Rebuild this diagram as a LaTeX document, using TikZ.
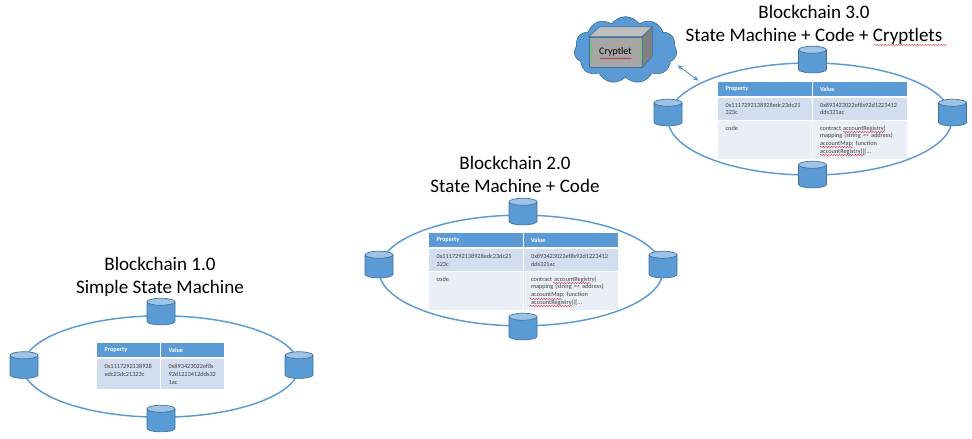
\documentclass[tikz,border=0pt]{standalone}
\usepackage{fontspec}
\setmainfont{Carlito}
\usetikzlibrary{shapes.geometric,shapes.symbols,arrows.meta,decorations.pathmorphing}
\definecolor{chainblue}{HTML}{5B9BD5}
\definecolor{chainedge}{HTML}{41719C}
\definecolor{chaintop}{HTML}{9DC3E6}
\definecolor{rowdark}{HTML}{D2DEEF}
\definecolor{rowlight}{HTML}{EAEFF7}
\begin{document}
\begin{tikzpicture}[x=0.75pt,y=-0.75pt]
        \tikzstyle{ring}=[ellipse,draw=chainblue,line width=1.1pt,inner sep=0pt]
        \tikzstyle{peer}=[cylinder,shape border rotate=90,shape aspect=0.25,draw=chainedge,line width=0.5pt,cylinder uses custom fill,cylinder body fill=chainblue,cylinder end fill=chaintop,text width=21pt,text height=6pt,text depth=0pt,minimum height=20pt,inner sep=0pt,outer sep=0pt]
        \tikzstyle{title}=[align=center,font=\fontsize{14.3}{17.2}\selectfont,text=black]
        \tikzstyle{cell}=[anchor=north west,inner xsep=5.5pt,inner ysep=0pt,align=left,font=\fontsize{4.7}{5.8}\selectfont,text=black!75]
        \tikzstyle{head}=[cell,fill=chainblue,text=white,font=\fontsize{4.7}{5.8}\selectfont\bfseries]
        \tikzstyle{squiggle}=[red!80!black,line width=0.3pt,decorate,decoration={snake,amplitude=0.35pt,segment length=2pt}]
        \useasboundingbox (0,0) rectangle (972,439);

        % first chain
        \node [ring,minimum width=207pt,minimum height=76pt] (ring1) at (161,366.5) {};
        \node [peer] (a1) at (161,313.5) {};
        \node [peer] (a2) at (24,367) {};
        \node [peer] (a3) at (299,367) {};
        \node [peer] (a4) at (161,420.5) {};
        \node [title] (title1) at (160,276.5) {Blockchain 1.0\\Simple State Machine};
        \node [head,minimum width=47pt,minimum height=10.5pt,text width=36pt] (a5) at (97,343) {Property};
        \node [head,minimum width=47pt,minimum height=10.5pt,text width=36pt] (a6) at (161,343) {Value};
        \node [cell,fill=rowdark,minimum width=47pt,minimum height=22.5pt,text width=36pt] (a7) at (97,359) {0x1117292138928\\edc23dc21323c\\\mbox{}};
        \node [cell,fill=rowdark,minimum width=47pt,minimum height=22.5pt,text width=36pt] (a8) at (161,359) {0x893423022ef8s\\92d1223412dds32\\1ac};

        % second chain
        \node [ring,minimum width=213pt,minimum height=83pt] (ring2) at (521,270.5) {};
        \node [peer] (b1) at (523,213.5) {};
        \node [peer] (b2) at (379,266.5) {};
        \node [peer] (b3) at (663,266.5) {};
        \node [peer] (b4) at (523,328.5) {};
        \node [title] (title2) at (515,174.5) {Blockchain 2.0\\State Machine + Code};
        \node [head,minimum width=70pt,minimum height=10.5pt,text width=59pt] (b5) at (429,233) {Property};
        \node [head,minimum width=70.5pt,minimum height=10.5pt,text width=59.5pt] (b6) at (523.5,233) {Value};
        \node [cell,fill=rowdark,minimum width=70pt,minimum height=16.5pt,text width=59pt] (b7) at (429,249) {0x1117292138928edc23dc21\\323c};
        \node [cell,fill=rowdark,minimum width=70.5pt,minimum height=16.5pt,text width=59.5pt] (b8) at (523.5,249) {0x893423022ef8s92d1223412\\dds321ac};
        \node [cell,fill=rowlight,minimum width=70pt,minimum height=28pt,text width=59pt] (b9) at (429,272) {code\\\mbox{}\\\mbox{}\\\mbox{}};
        \node [cell,fill=rowlight,minimum width=70.5pt,minimum height=28pt,text width=59.5pt] (b10) at (523.5,272) {contract accountRegistry\{\\mapping (string => address)\\accountMap; function\\accountRegistry()\{...};

        % third chain
        \node [ring,minimum width=213pt,minimum height=84pt] (ring3) at (810,119) {};
        \node [peer] (c1) at (812.5,61.5) {};
        \node [peer] (c2) at (668,114.5) {};
        \node [peer] (c3) at (952.5,114.5) {};
        \node [peer] (c4) at (812.5,176.5) {};
        \node [title] (title3) at (814,24.5) {Blockchain 3.0\\State Machine + Code + Cryptlets};
        \node [head,minimum width=70pt,minimum height=10.5pt,text width=59pt] (c5) at (718,82) {Property};
        \node [head,minimum width=70.5pt,minimum height=10.5pt,text width=59.5pt] (c6) at (812.5,82) {Value};
        \node [cell,fill=rowdark,minimum width=70pt,minimum height=16pt,text width=59pt] (c7) at (718,98) {0x1117292138928edc23dc21\\323c};
        \node [cell,fill=rowdark,minimum width=70.5pt,minimum height=16pt,text width=59.5pt] (c8) at (812.5,98) {0x893423022ef8s92d1223412\\dds321ac};
        \node [cell,fill=rowlight,minimum width=70pt,minimum height=28pt,text width=59pt] (c9) at (718,121) {code\\\mbox{}\\\mbox{}\\\mbox{}};
        \node [cell,fill=rowlight,minimum width=70.5pt,minimum height=28pt,text width=59.5pt] (c10) at (812.5,121) {contract accountRegistry\{\\mapping (string => address)\\accountMap; function\\accountRegistry()\{...};

        % cloud and box
        \node [cloud,cloud puffs=11,cloud puff arc=110,aspect=1.5,draw=chainedge,line width=0.5pt,fill=chainblue,minimum width=77pt,minimum height=50pt,inner sep=0pt] (cloud) at (625.5,50) {};
        \node [draw=chainedge,line width=0.5pt,fill=black!35,minimum width=39.5pt,minimum height=22.5pt,inner sep=0pt,font=\fontsize{7.5}{9}\selectfont] (box) at (615.5,52) {Cryptlet};
        \draw [chainedge,line width=0.5pt,fill=black!25] (box.north west) -- ++(11,-10) -- ++(53,0) -- (box.north east) -- cycle;
        \draw [chainedge,line width=0.5pt,fill=black!50] (box.north east) -- ++(10,-10) -- ++(0,30) -- (box.south east) -- cycle;
        \draw [green!70!black!60,line width=0.4pt] (592.5,42) -- (591,42) -- (591,60) -- (592.5,60);
        \draw [green!70!black!60,line width=0.4pt] (639.5,42) -- (641,42) -- (641,60) -- (639.5,60);

        \coordinate (p1) at (677,65);
        \coordinate (p2) at (699,81);
        \draw [{Latex[length=4pt,width=3.5pt]}-{Latex[length=4pt,width=3.5pt]},chainblue,line width=0.7pt] (p1) -- (p2);

        % spell check marks
        \draw [squiggle] (600,58.5) -- (632,58.5);
        \draw [squiggle] (874,45) -- (947,45);
        \draw [squiggle] (843,132) -- (885,132);
        \draw [squiggle] (820,147) -- (853,147);
        \draw [squiggle] (820,155) -- (865,155);
        \draw [squiggle] (553,283) -- (590,283);
        \draw [squiggle] (530,299) -- (562,299);
        \draw [squiggle] (530,306) -- (572,306);
\end{tikzpicture}
\end{document}
